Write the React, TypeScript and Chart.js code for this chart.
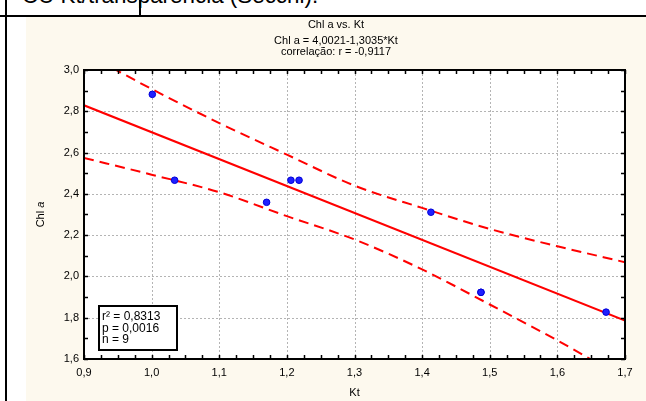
import React, { useEffect, useRef } from "react";
import { Chart, registerables } from "chart.js";

Chart.register(...registerables);

// ---- data ----
const ktValues = [1.001, 1.034, 1.17, 1.206, 1.218, 1.413, 1.487, 1.487, 1.672];
const chlValues = [2.882, 2.466, 2.359, 2.466, 2.466, 2.311, 1.923, 1.923, 1.827];

const fitKt = [0.9, 1.7];
const fitChl = [2.829, 1.786];

const bandKt = [0.9, 1.0, 1.1, 1.2, 1.3, 1.4, 1.5, 1.6, 1.7];
const upperChl = [3.085, 2.908, 2.743, 2.59, 2.44, 2.332, 2.23, 2.146, 2.069];
const lowerChl = [2.574, 2.493, 2.408, 2.292, 2.179, 2.034, 1.864, 1.69, 1.503];

const xTickLabels = ["0,9", "1,0", "1,1", "1,2", "1,3", "1,4", "1,5", "1,6", "1,7"];
const yTickLabels = ["1,6", "1,8", "2,0", "2,2", "2,4", "2,6", "2,8", "3,0"];

const titleText = "Chl a vs. Kt";
const equationText = "Chl a = 4,0021-1,3035*Kt";
const correlationText = "correlação: r = -0,9117";
const statsLines = ["r² = 0,8313", "p = 0,0016", "n = 9"];
const xTitle = "Kt";
const yTitle = "Chl ";
const yTitleItalic = "a";
const pageHeading = "CU Kt/transparencia (Secchi).";

const FONT = "'Liberation Sans', Arial, sans-serif";

const toXY = (xs: number[], ys: number[]) => xs.map((x, i) => ({ x, y: ys[i] }));

const decorPlugin = {
  id: "decor",
  beforeDraw(chart: any) {
    const { ctx, chartArea, width, height } = chart;
    ctx.save();
    ctx.fillStyle = "#fdf9ee";
    ctx.fillRect(0, 0, width, height);
    ctx.fillStyle = "#ffffff";
    ctx.fillRect(chartArea.left, chartArea.top, chartArea.right - chartArea.left, chartArea.bottom - chartArea.top);
    ctx.restore();
  },
  beforeDatasetsDraw(chart: any) {
    const { ctx, chartArea } = chart;
    const xs = chart.scales.x;
    const ys = chart.scales.y;
    const { left, right, top, bottom } = chartArea;
    ctx.save();
    ctx.strokeStyle = "#b4b4b4";
    ctx.lineWidth = 1;
    ctx.setLineDash([2, 2]);
    ctx.beginPath();
    xs.ticks.forEach((t: any) => {
      const px = Math.round(xs.getPixelForValue(t.value)) + 0.5;
      if (px > left + 2 && px < right - 2) {
        ctx.moveTo(px, top);
        ctx.lineTo(px, bottom);
      }
    });
    ys.ticks.forEach((t: any) => {
      const py = Math.round(ys.getPixelForValue(t.value)) + 0.5;
      if (py > top + 2 && py < bottom - 2) {
        ctx.moveTo(left, py);
        ctx.lineTo(right, py);
      }
    });
    ctx.stroke();
    ctx.restore();
  },
  afterDraw(chart: any) {
    const { ctx, chartArea } = chart;
    const xs = chart.scales.x;
    const ys = chart.scales.y;
    const { left, right, top, bottom } = chartArea;
    ctx.save();
    // frame
    ctx.strokeStyle = "#000";
    ctx.lineWidth = 2;
    ctx.strokeRect(left, top, right - left, bottom - top);
    // minor inward ticks
    ctx.lineWidth = 1.5;
    ctx.beginPath();
    for (let i = 0; i <= 32; i++) {
      const px = Math.round(xs.getPixelForValue(0.9 + i * 0.025)) + 0.5;
      ctx.moveTo(px, bottom);
      ctx.lineTo(px, bottom - 4);
      ctx.moveTo(px, top);
      ctx.lineTo(px, top + 4);
    }
    for (let i = 0; i <= 14; i++) {
      const py = Math.round(ys.getPixelForValue(1.6 + i * 0.1)) + 0.5;
      ctx.moveTo(left, py);
      ctx.lineTo(left + 4, py);
      ctx.moveTo(right, py);
      ctx.lineTo(right - 4, py);
    }
    ctx.stroke();

    // titles
    const cx = chart.width / 2;
    ctx.fillStyle = "#000";
    ctx.textAlign = "center";
    ctx.textBaseline = "middle";
    ctx.font = `11px ${FONT}`;
    ctx.fillText(titleText, cx, 7.5);
    ctx.fillText(equationText, cx, 24);
    ctx.fillText(correlationText, cx, 35);

    // axis titles
    ctx.fillText(xTitle, (left + right) / 2, 376);
    ctx.save();
    ctx.translate(15, (top + bottom) / 2);
    ctx.rotate(-Math.PI / 2);
    const w1 = ctx.measureText(yTitle).width;
    ctx.font = `italic 11px ${FONT}`;
    const w2 = ctx.measureText(yTitleItalic).width;
    ctx.textAlign = "left";
    ctx.font = `11px ${FONT}`;
    ctx.fillText(yTitle, -(w1 + w2) / 2, 0);
    ctx.font = `italic 11px ${FONT}`;
    ctx.fillText(yTitleItalic, -(w1 + w2) / 2 + w1, 0);
    ctx.restore();

    // stats box
    const bx = 73, by = 289, bw = 78, bh = 44;
    ctx.fillStyle = "#fff";
    ctx.fillRect(bx, by, bw, bh);
    ctx.strokeStyle = "#000";
    ctx.lineWidth = 2;
    ctx.strokeRect(bx, by, bw, bh);
    ctx.fillStyle = "#000";
    ctx.font = `12px ${FONT}`;
    ctx.textAlign = "left";
    ctx.textBaseline = "middle";
    statsLines.forEach((s, i) => ctx.fillText(s, bx + 3, by + 11 + i * 11.3));
    ctx.restore();
  },
};

export default function App() {
  const ref = useRef<HTMLCanvasElement | null>(null);

  useEffect(() => {
    if (!ref.current) return;
    const chart = new Chart(ref.current, {
      type: "scatter",
      data: {
        datasets: [
          {
            type: "scatter",
            label: "obs",
            data: toXY(ktValues, chlValues),
            pointRadius: 3.3,
            pointBackgroundColor: "#1f1fff",
            pointBorderColor: "#0000d8",
            pointBorderWidth: 1,
          } as any,
          {
            type: "line",
            label: "fit",
            data: toXY(fitKt, fitChl),
            borderColor: "#ff0000",
            borderWidth: 2,
            pointRadius: 0,
            fill: false,
          },
          {
            type: "line",
            label: "upper",
            data: toXY(bandKt, upperChl),
            borderColor: "#ff0000",
            borderWidth: 2,
            borderDash: [10, 6],
            pointRadius: 0,
            cubicInterpolationMode: "monotone",
            fill: false,
          },
          {
            type: "line",
            label: "lower",
            data: toXY(bandKt, lowerChl),
            borderColor: "#ff0000",
            borderWidth: 2,
            borderDash: [10, 6],
            pointRadius: 0,
            cubicInterpolationMode: "monotone",
            fill: false,
          },
        ],
      },
      options: {
        animation: false,
        responsive: false,
        devicePixelRatio: 1,
        layout: { padding: { top: 53, right: 21, left: 0, bottom: 0 } },
        plugins: { legend: { display: false }, tooltip: { enabled: false }, title: { display: false } },
        scales: {
          x: {
            type: "linear",
            min: 0.9,
            max: 1.7,
            afterFit: (s: any) => {
              s.height = 42;
            },
            grid: { display: false, drawTicks: false },
            border: { display: false },
            ticks: {
              stepSize: 0.1,
              autoSkip: false,
              maxRotation: 0,
              padding: 7,
              color: "#000",
              font: { family: FONT, size: 11 },
              callback: (v: any, i: number) => xTickLabels[i] ?? Number(v).toFixed(1).replace(".", ","),
            },
          },
          y: {
            type: "linear",
            min: 1.6,
            max: 3.0,
            afterFit: (s: any) => {
              s.width = 58;
            },
            grid: { display: false, drawTicks: false },
            border: { display: false },
            ticks: {
              stepSize: 0.2,
              autoSkip: false,
              padding: 5,
              color: "#000",
              font: { family: FONT, size: 11 },
              callback: (v: any, i: number) => yTickLabels[i] ?? Number(v).toFixed(1).replace(".", ","),
            },
          },
        },
      } as any,
      plugins: [decorPlugin],
    });
    return () => chart.destroy();
  }, []);

  return (
    <div style={{ position: "absolute", left: 0, top: 0, width: 646, height: 401, overflow: "hidden", background: "#fff" }}>
      <div
        style={{
          position: "absolute",
          left: 22,
          top: -14.6,
          fontFamily: FONT,
          fontSize: 22.4,
          lineHeight: "22px",
          whiteSpace: "nowrap",
          color: "#000",
        }}
      >
        {pageHeading}
      </div>
      <div style={{ position: "absolute", left: 0, top: 15, width: 646, height: 2, background: "#000" }} />
      <div style={{ position: "absolute", left: 5, top: 0, width: 2, height: 401, background: "#000" }} />
      <div style={{ position: "absolute", left: 139, top: 0, width: 2, height: 15, background: "#000" }} />
      <canvas ref={ref} width={620} height={384} style={{ position: "absolute", left: 26, top: 17, width: 620, height: 384 }} />
    </div>
  );
}
